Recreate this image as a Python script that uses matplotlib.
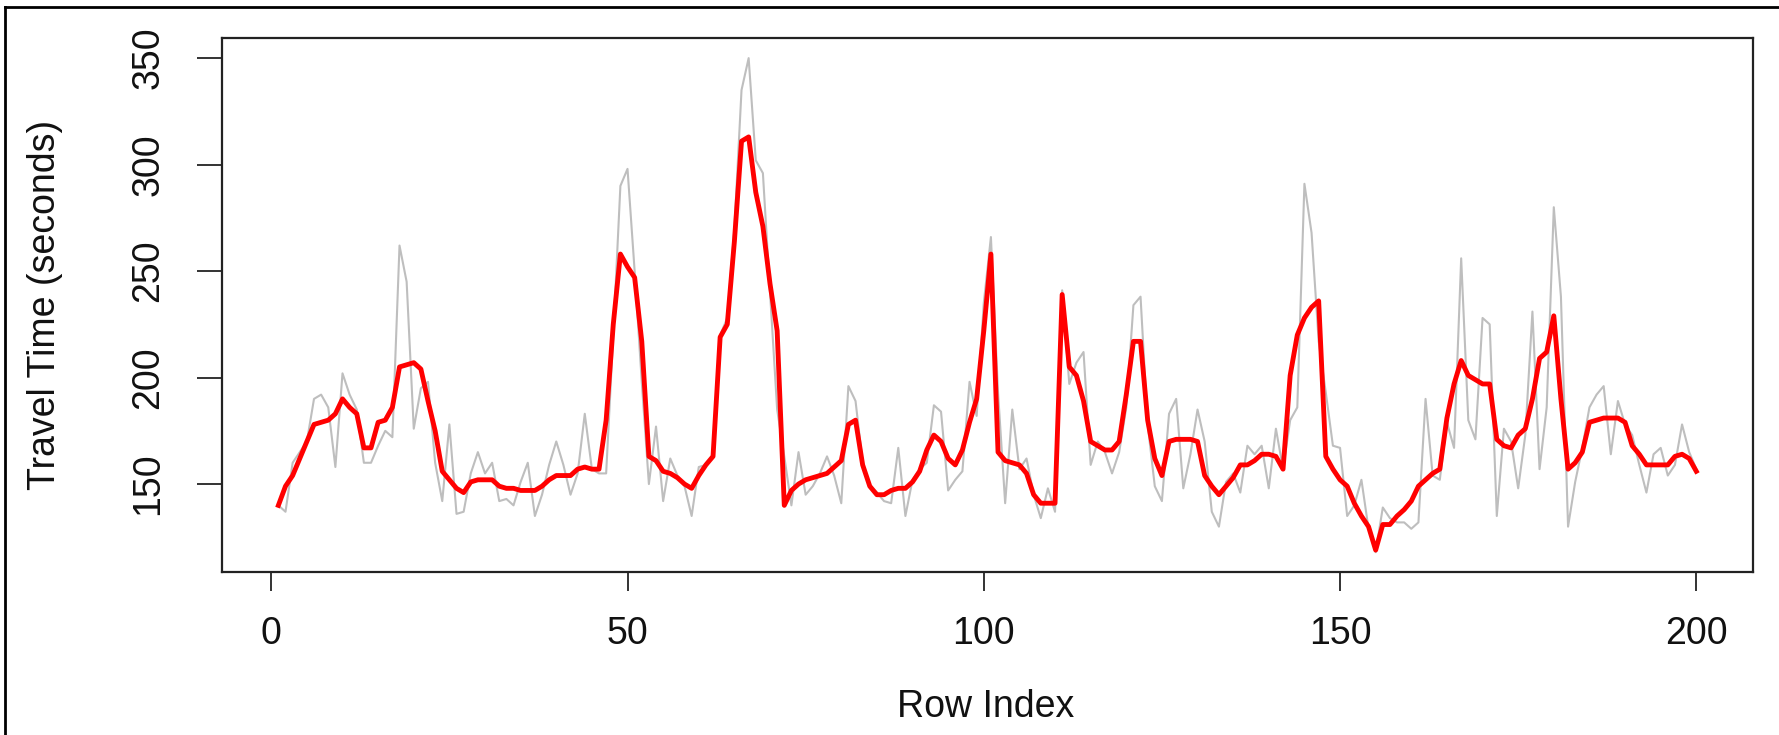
import numpy as np
import matplotlib
matplotlib.use('Agg')
import matplotlib.pyplot as plt
from matplotlib.lines import Line2D

plt.rcParams['font.family'] = ['Liberation Sans', 'DejaVu Sans']

# valori (indice 1..200)
row_index = np.arange(1, 201)

travel_raw = [
    140, 137, 160, 165, 170, 190, 192, 186, 158, 202,
    192, 185, 160, 160, 168, 175, 172, 262, 245, 176,
    195, 198, 160, 142, 178, 136, 137, 155, 165, 155,
    160, 142, 143, 140, 151, 160, 135, 145, 159, 170,
    159, 145, 155, 183, 157, 155, 155, 220, 290, 298,
    250, 198, 150, 177, 142, 162, 154, 149, 135, 158,
    159, 164, 220, 228, 270, 335, 350, 302, 296, 240,
    185, 163, 140, 165, 145, 149, 155, 163, 154, 141,
    196, 189, 160, 149, 146, 142, 141, 167, 135, 152,
    157, 160, 187, 184, 147, 152, 156, 198, 182, 235,
    266, 193, 141, 185, 157, 162, 145, 134, 148, 137,
    241, 197, 207, 212, 159, 170, 165, 155, 165, 186,
    234, 238, 178, 149, 142, 183, 190, 148, 164, 185,
    170, 137, 130, 151, 155, 146, 168, 164, 168, 148,
    176, 157, 180, 186, 291, 268, 217, 193, 168, 167,
    135, 140, 152, 129, 118, 139, 134, 132, 132, 129,
    132, 190, 154, 152, 179, 167, 256, 180, 171, 228,
    225, 135, 176, 170, 148, 173, 231, 157, 186, 280,
    238, 130, 151, 167, 186, 192, 196, 164, 189, 178,
    173, 159, 146, 164, 167, 154, 159, 178, 165, 157,
]

travel_smooth = [
    140, 149, 154, 162, 170, 178, 179, 180, 183, 190,
    186, 183, 167, 167, 179, 180, 186, 205, 206, 207,
    204, 189, 175, 156, 152, 148, 146, 151, 152, 152,
    152, 149, 148, 148, 147, 147, 147, 149, 152, 154,
    154, 154, 157, 158, 157, 157, 180, 225, 258, 252,
    247, 217, 163, 161, 156, 155, 153, 150, 148, 154,
    159, 163, 219, 225, 264, 311, 313, 287, 271, 244,
    222, 140, 147, 150, 152, 153, 154, 155, 158, 161,
    178, 180, 159, 149, 145, 145, 147, 148, 148, 151,
    156, 166, 173, 170, 162, 159, 166, 179, 190, 222,
    258, 165, 161, 160, 159, 155, 145, 141, 141, 141,
    239, 205, 201, 189, 170, 168, 166, 166, 170, 192,
    217, 217, 180, 162, 154, 170, 171, 171, 171, 170,
    154, 149, 145, 149, 153, 159, 159, 161, 164, 164,
    163, 157, 201, 220, 228, 233, 236, 163, 157, 152,
    149, 141, 135, 130, 119, 131, 131, 135, 138, 142,
    149, 152, 155, 157, 181, 197, 208, 201, 199, 197,
    197, 171, 168, 167, 173, 176, 190, 209, 212, 229,
    190, 157, 160, 165, 179, 180, 181, 181, 181, 179,
    168, 164, 159, 159, 159, 159, 163, 164, 162, 156,
]

x_ticks = [0, 50, 100, 150, 200]
y_ticks = [150, 200, 250, 300, 350]

fig = plt.figure(figsize=(17.79, 7.35), dpi=100)
ax = fig.add_axes([0.1246, 0.2218, 0.9854 - 0.1246, 0.9478 - 0.2218])

ax.plot(row_index, travel_raw, color='#BEBEBE', lw=1.5)
ax.plot(row_index, travel_smooth, color='#FF0000', lw=3.5)

# limiti stile R (estensione 4%)
xr = 199 * 0.04
yr = (max(travel_raw) - min(travel_raw)) * 0.04
ax.set_xlim(1 - xr, 200 + xr)
ax.set_ylim(min(travel_raw) - yr, max(travel_raw) + yr)

ax.set_xticks(x_ticks)
ax.set_yticks(y_ticks)
ax.set_yticklabels([str(v) for v in y_ticks], rotation=90, va='center')
ax.tick_params(axis='x', length=14, width=1.2, pad=18, labelsize=27, colors='#111111')
ax.tick_params(axis='y', length=18, width=1.2, pad=22, labelsize=27, colors='#111111')
for s in ax.spines.values():
    s.set_linewidth(1.6)
    s.set_color('#222222')

fig.text(986 / 1779, 1 - 707 / 735, 'Row Index', ha='center', va='center', fontsize=27, color='#111111')
fig.text(45 / 1779, 1 - 305 / 735, 'Travel Time (seconds)', ha='center', va='center',
         rotation=90, fontsize=27, color='#111111')

# cornice esterna (solo lati visibili)
fig.add_artist(Line2D([5 / 1779, 1.0], [1 - 7 / 735, 1 - 7 / 735], color='black', lw=2, transform=fig.transFigure))
fig.add_artist(Line2D([5 / 1779, 5 / 1779], [0.0, 1 - 7 / 735], color='black', lw=2, transform=fig.transFigure))

fig.savefig('out.png', dpi=100)
